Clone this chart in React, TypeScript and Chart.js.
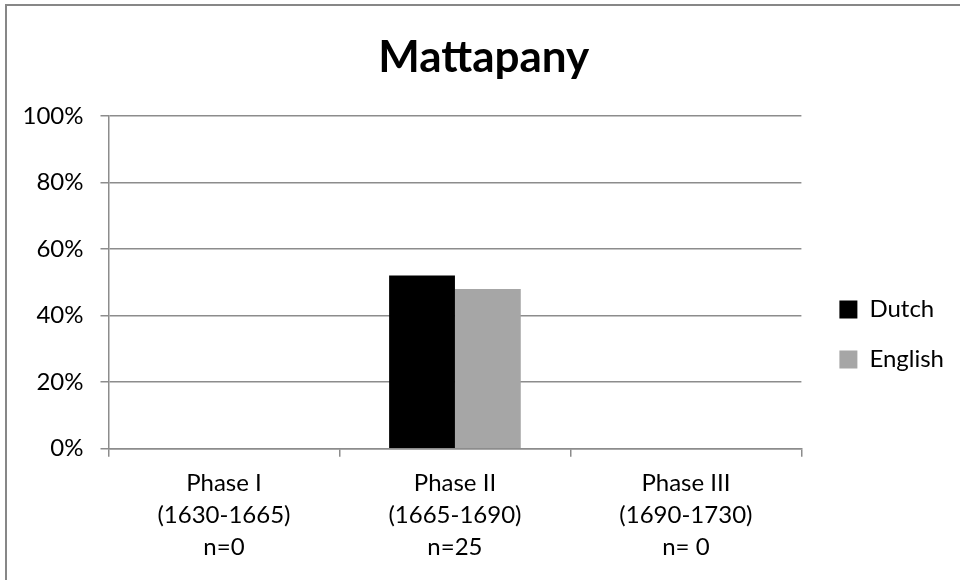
import React, { useEffect, useRef } from "react";
import { Chart, registerables } from "chart.js";

Chart.register(...registerables);

const categories: string[][] = [
  ["Phase I", "(1630-1665)", "n=0"],
  ["Phase II", "(1665-1690)", "n=25"],
  ["Phase III", "(1690-1730)", "n= 0"],
];
const dutchValues = [0, 0.52, 0];
const englishValues = [0, 0.48, 0];
const seriesNames = ["Dutch", "English"];
const yTicks = [0, 0.2, 0.4, 0.6, 0.8, 1.0];

const FONT = "Lato, 'Open Sans', sans-serif";
const GRID = "#8c8c8c";

const nudgeBoxes = {
  id: "nudgeBoxes",
  afterLayout(chart: any) {
    if (chart.legend) {
      chart.legend.left += 12;
      chart.legend.right += 12;
    }
    if (chart.titleBlock) {
      chart.titleBlock.left += 10;
      chart.titleBlock.right += 10;
    }
  },
};

export default function App() {
  const ref = useRef<HTMLCanvasElement | null>(null);

  useEffect(() => {
    document.body.style.margin = "0";
    const canvas = ref.current;
    if (!canvas) return;
    const chart = new Chart(canvas, {
      type: "bar",
      data: {
        labels: categories,
        datasets: [
          {
            label: seriesNames[0],
            data: dutchValues,
            backgroundColor: "#000000",
            borderWidth: 0,
            categoryPercentage: 0.57,
            barPercentage: 1,
          },
          {
            label: seriesNames[1],
            data: englishValues,
            backgroundColor: "#a6a6a6",
            borderWidth: 0,
            categoryPercentage: 0.57,
            barPercentage: 1,
          },
        ],
      },
      plugins: [nudgeBoxes],
      options: {
        animation: false,
        responsive: false,
        maintainAspectRatio: false,
        layout: { padding: { left: 5.5, top: 0, right: 18, bottom: 6.2 } },
        plugins: {
          title: {
            display: true,
            text: "Mattapany",
            color: "#000",
            font: { family: FONT, size: 44, weight: "bold" },
            padding: { top: 31, bottom: 32 },
          },
          legend: {
            position: "right",
            title: {
              display: true,
              text: " ",
              font: { family: FONT, size: 10 },
              padding: { top: 83, bottom: 0 },
            },
            labels: {
              color: "#000",
              boxWidth: 18,
              boxHeight: 18,
              padding: 26,
              font: { family: FONT, size: 24 },
            },
          },
          tooltip: { enabled: false },
        },
        scales: {
          x: {
            grid: {
              display: true,
              drawOnChartArea: false,
              drawTicks: true,
              tickLength: 8,
              color: GRID,
              lineWidth: 1.5,
              offset: true,
            },
            border: { display: true, color: GRID, width: 1.5 },
            ticks: {
              color: "#000",
              padding: 11,
              maxRotation: 0,
              font: { family: FONT, size: 24, lineHeight: 1.32 },
            },
          },
          y: {
            min: 0,
            max: 1,
            afterBuildTicks: (axis: any) => {
              axis.ticks = yTicks.map((v) => ({ value: v }));
            },
            grid: {
              color: GRID,
              lineWidth: 1.5,
              tickLength: 8,
            },
            border: { display: true, color: GRID, width: 1.5 },
            ticks: {
              color: "#000",
              padding: 17,
              font: { family: FONT, size: 24 },
              callback: (v: any) => `${Math.round(Number(v) * 100)}%`,
            },
          },
        },
      },
    });
    return () => chart.destroy();
  }, []);

  return (
    <div style={{ position: "relative", width: 960, height: 580, overflow: "hidden", background: "#fff" }}>
      <canvas ref={ref} width={960} height={580} style={{ position: "absolute", left: 0, top: 0 }} />
      <div
        style={{
          position: "absolute",
          left: 5,
          top: 4,
          width: 1200,
          height: 1200,
          borderLeft: "2px solid #878787",
          borderTop: "2px solid #878787",
          pointerEvents: "none",
        }}
      />
    </div>
  );
}
